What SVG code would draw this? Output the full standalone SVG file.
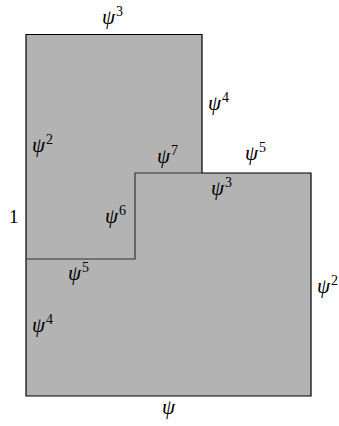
<svg xmlns="http://www.w3.org/2000/svg" width="339" height="426" viewBox="0 0 339 426">
<style>
.shape{fill:#b3b3b3;stroke:#000;stroke-width:1.2;stroke-linejoin:miter}
.edge{fill:none;stroke:#333;stroke-width:1.2}
.lbl{font-family:"Liberation Serif","DejaVu Serif",serif;font-style:italic;font-size:21px;fill:#000}
.sup{font-style:normal;font-size:14px}
.num{font-family:"Liberation Serif","DejaVu Serif",serif;font-size:19px;fill:#000}
</style>
<g id="region">
<path class="shape" d="M26,34.5 H202 V173 H311 V396 H26 Z"/>
</g>
<g id="connectors">
<path class="edge" d="M26,259 H135 V173 H202"/>
</g>
<g id="labels">
<text class="lbl" x="102" y="24">ψ<tspan class="sup" dx="1" dy="-8">3</tspan></text>
<text class="lbl" x="208" y="110">ψ<tspan class="sup" dx="1" dy="-8">4</tspan></text>
<text class="lbl" x="32" y="152">ψ<tspan class="sup" dx="1" dy="-8">2</tspan></text>
<text class="lbl" x="157" y="163">ψ<tspan class="sup" dx="1" dy="-8">7</tspan></text>
<text class="lbl" x="245" y="160">ψ<tspan class="sup" dx="1" dy="-8">5</tspan></text>
<text class="lbl" x="211" y="195">ψ<tspan class="sup" dx="1" dy="-8">3</tspan></text>
<text class="num" x="9" y="223">1</text>
<text class="lbl" x="105" y="223">ψ<tspan class="sup" dx="1" dy="-8">6</tspan></text>
<text class="lbl" x="68" y="280">ψ<tspan class="sup" dx="1" dy="-8">5</tspan></text>
<text class="lbl" x="317" y="293">ψ<tspan class="sup" dx="1" dy="-8">2</tspan></text>
<text class="lbl" x="32" y="332">ψ<tspan class="sup" dx="1" dy="-8">4</tspan></text>
<text class="lbl" x="162" y="414">ψ</text>
</g>
</svg>
